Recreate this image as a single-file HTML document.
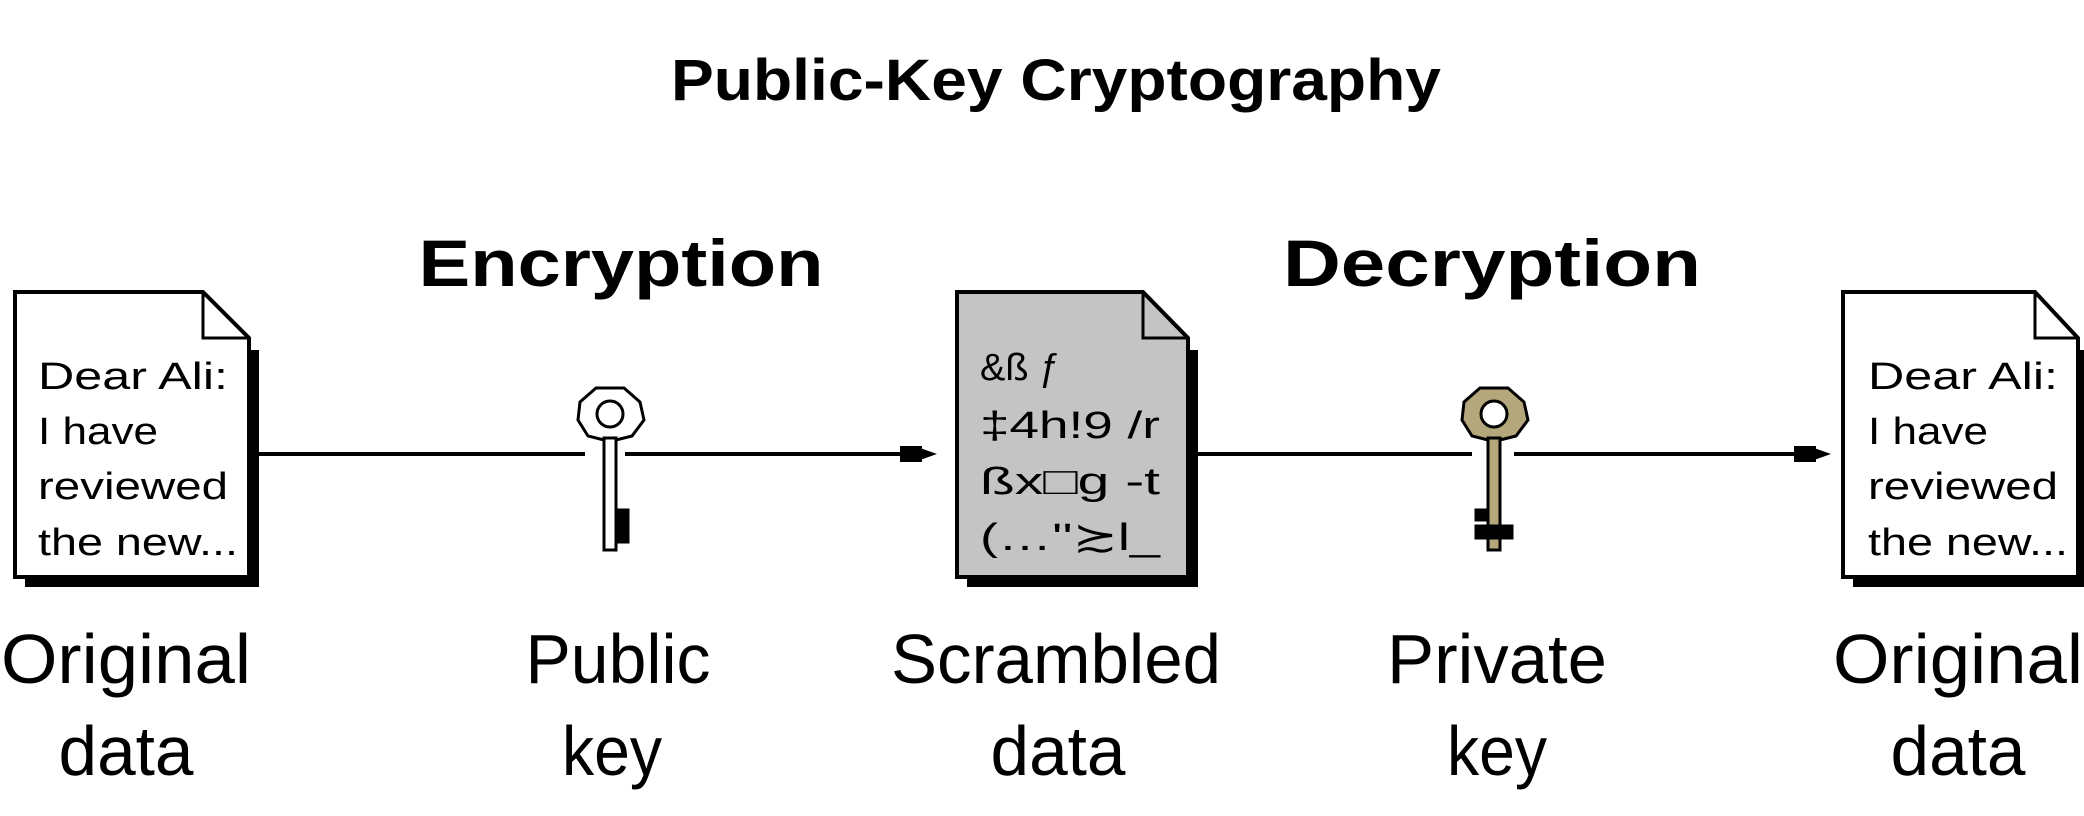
<!DOCTYPE html>
<html><head><meta charset="utf-8"><style>
html,body{margin:0;padding:0;background:#fff;width:2084px;height:816px;overflow:hidden}
svg text{font-family:"Liberation Sans","DejaVu Sans",sans-serif}
</style></head><body>
<svg width="2084" height="816" viewBox="0 0 2084 816" xmlns="http://www.w3.org/2000/svg">
<text x="1056" y="100" text-anchor="middle" font-size="58" font-weight="bold" textLength="770" lengthAdjust="spacingAndGlyphs">Public-Key Cryptography</text>
<text x="621" y="286" text-anchor="middle" font-size="66" font-weight="bold" textLength="405" lengthAdjust="spacingAndGlyphs">Encryption</text>
<text x="1492" y="286" text-anchor="middle" font-size="66" font-weight="bold" textLength="418" lengthAdjust="spacingAndGlyphs">Decryption</text>

<g stroke="#000" stroke-width="4">
<line x1="259" y1="454" x2="585" y2="454"/>
<line x1="625" y1="454" x2="905" y2="454"/>
<line x1="1196" y1="454" x2="1472" y2="454"/>
<line x1="1514" y1="454" x2="1800" y2="454"/>
</g>
<rect x="900" y="446" width="22" height="16" fill="#000"/>
<polygon points="920,448 937,454 920,460" fill="#000"/>
<rect x="1794" y="446" width="22" height="16" fill="#000"/>
<polygon points="1814,448 1831,454 1814,460" fill="#000"/>

<!-- left doc -->
<g>
<polygon points="249,350 259,350 259,587 25,587 25,577 249,577" fill="#000"/>
<polygon points="15,292 203,292 249,338 249,577 15,577" fill="#fff" stroke="#000" stroke-width="4"/>
<polyline points="203,292 203,338 249,338" fill="none" stroke="#000" stroke-width="3"/>
<g font-size="38" fill="#000">
<text x="38" y="389" textLength="190" lengthAdjust="spacingAndGlyphs">Dear Ali:</text>
<text x="38" y="444" textLength="120" lengthAdjust="spacingAndGlyphs">I have</text>
<text x="38" y="499" textLength="190" lengthAdjust="spacingAndGlyphs">reviewed</text>
<text x="38" y="555" textLength="200" lengthAdjust="spacingAndGlyphs">the new...</text>
</g>
</g>

<!-- scrambled doc -->
<g>
<polygon points="1188,350 1198,350 1198,587 967,587 967,577 1188,577" fill="#000"/>
<polygon points="957,292 1143,292 1188,338 1188,577 957,577" fill="#c4c4c4" stroke="#000" stroke-width="4"/>
<polyline points="1143,292 1143,338 1188,338" fill="none" stroke="#000" stroke-width="3"/>
<g font-size="38" fill="#000">
<text x="980" y="380">&amp;ß ƒ</text>
<text x="980" y="438" textLength="180" lengthAdjust="spacingAndGlyphs">‡4h!9 /r</text>
<text x="980" y="494" textLength="180" lengthAdjust="spacingAndGlyphs">ßx□g -t</text>
<text x="980" y="550" textLength="180" lengthAdjust="spacingAndGlyphs">(…''≿l_</text>
</g>
</g>

<!-- right doc -->
<g>
<polygon points="2078,350 2090,350 2090,587 1853,587 1853,577 2078,577" fill="#000"/>
<polygon points="1843,292 2035,292 2078,338 2078,577 1843,577" fill="#fff" stroke="#000" stroke-width="4"/>
<polyline points="2035,292 2035,338 2078,338" fill="none" stroke="#000" stroke-width="3"/>
<g font-size="38" fill="#000">
<text x="1868" y="389" textLength="190" lengthAdjust="spacingAndGlyphs">Dear Ali:</text>
<text x="1868" y="444" textLength="120" lengthAdjust="spacingAndGlyphs">I have</text>
<text x="1868" y="499" textLength="190" lengthAdjust="spacingAndGlyphs">reviewed</text>
<text x="1868" y="555" textLength="200" lengthAdjust="spacingAndGlyphs">the new...</text>
</g>
</g>

<!-- public key -->
<g stroke="#000" stroke-width="3" fill="#fff">
<polygon points="596,388 624,388 640,402 644,420 632,436 616,440 604,440 588,436 578,420 580,402"/>
<circle cx="610" cy="414" r="13"/>
<rect x="604" y="438" width="12" height="112"/>
<rect x="616" y="510" width="12" height="32" fill="#000"/>
</g>

<!-- private key -->
<g stroke="#000" stroke-width="3" fill="#b5a77c">
<polygon points="1480,388 1508,388 1524,402 1528,420 1516,436 1500,440 1488,440 1472,436 1462,420 1464,402"/>
<circle cx="1494" cy="414" r="13" fill="#fff"/>
<rect x="1488" y="438" width="12" height="112"/>
<rect x="1476" y="510" width="12" height="10" fill="#000"/>
<rect x="1476" y="526" width="36" height="12" fill="#000"/>
</g>

<g font-size="70" fill="#000" text-anchor="middle">
<text x="126" y="683" textLength="250" lengthAdjust="spacingAndGlyphs">Original</text>
<text x="126" y="775" textLength="135" lengthAdjust="spacingAndGlyphs">data</text>
<text x="618" y="683" textLength="185" lengthAdjust="spacingAndGlyphs">Public</text>
<text x="612" y="775" textLength="100" lengthAdjust="spacingAndGlyphs">key</text>
<text x="1056" y="683" textLength="330" lengthAdjust="spacingAndGlyphs">Scrambled</text>
<text x="1058" y="775" textLength="135" lengthAdjust="spacingAndGlyphs">data</text>
<text x="1497" y="683" textLength="220" lengthAdjust="spacingAndGlyphs">Private</text>
<text x="1497" y="775" textLength="100" lengthAdjust="spacingAndGlyphs">key</text>
<text x="1958" y="683" textLength="250" lengthAdjust="spacingAndGlyphs">Original</text>
<text x="1958" y="775" textLength="135" lengthAdjust="spacingAndGlyphs">data</text>
</g>
</svg>
</body></html>
